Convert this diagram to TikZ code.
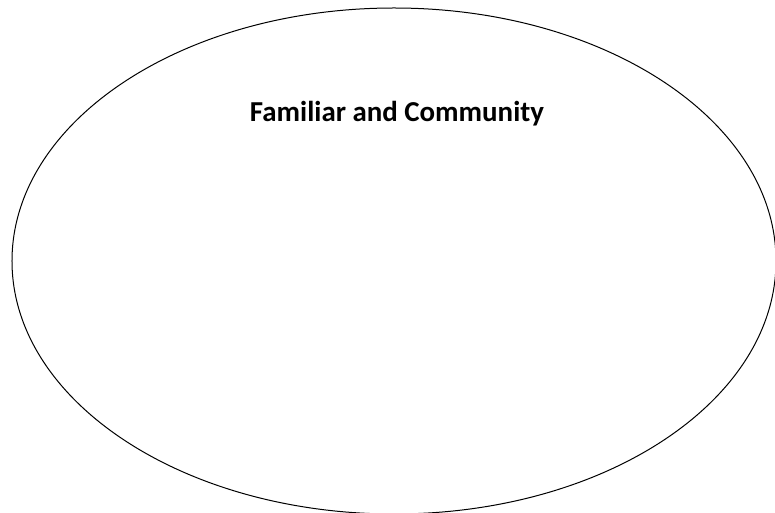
\documentclass[tikz,border=0pt]{standalone}
\usepackage{fontspec}
\setmainfont{Carlito}
\usetikzlibrary{shapes.geometric}

\tikzset{
  circlearea/.style={ellipse,draw=black,line width=1bp,minimum width=764bp,minimum height=506bp,inner sep=0pt},
  arealabel/.style={font=\fontsize{29}{34}\selectfont\bfseries,text=black,anchor=base}
}

\begin{document}
\begin{tikzpicture}[x=1bp,y=-1bp]
  \useasboundingbox (0,0) rectangle (775,513);
  \node[circlearea] (family) at (394,261) {};
  \node[arealabel] (familylabel) at (397,122) {Familiar and Community};
\end{tikzpicture}
\end{document}
